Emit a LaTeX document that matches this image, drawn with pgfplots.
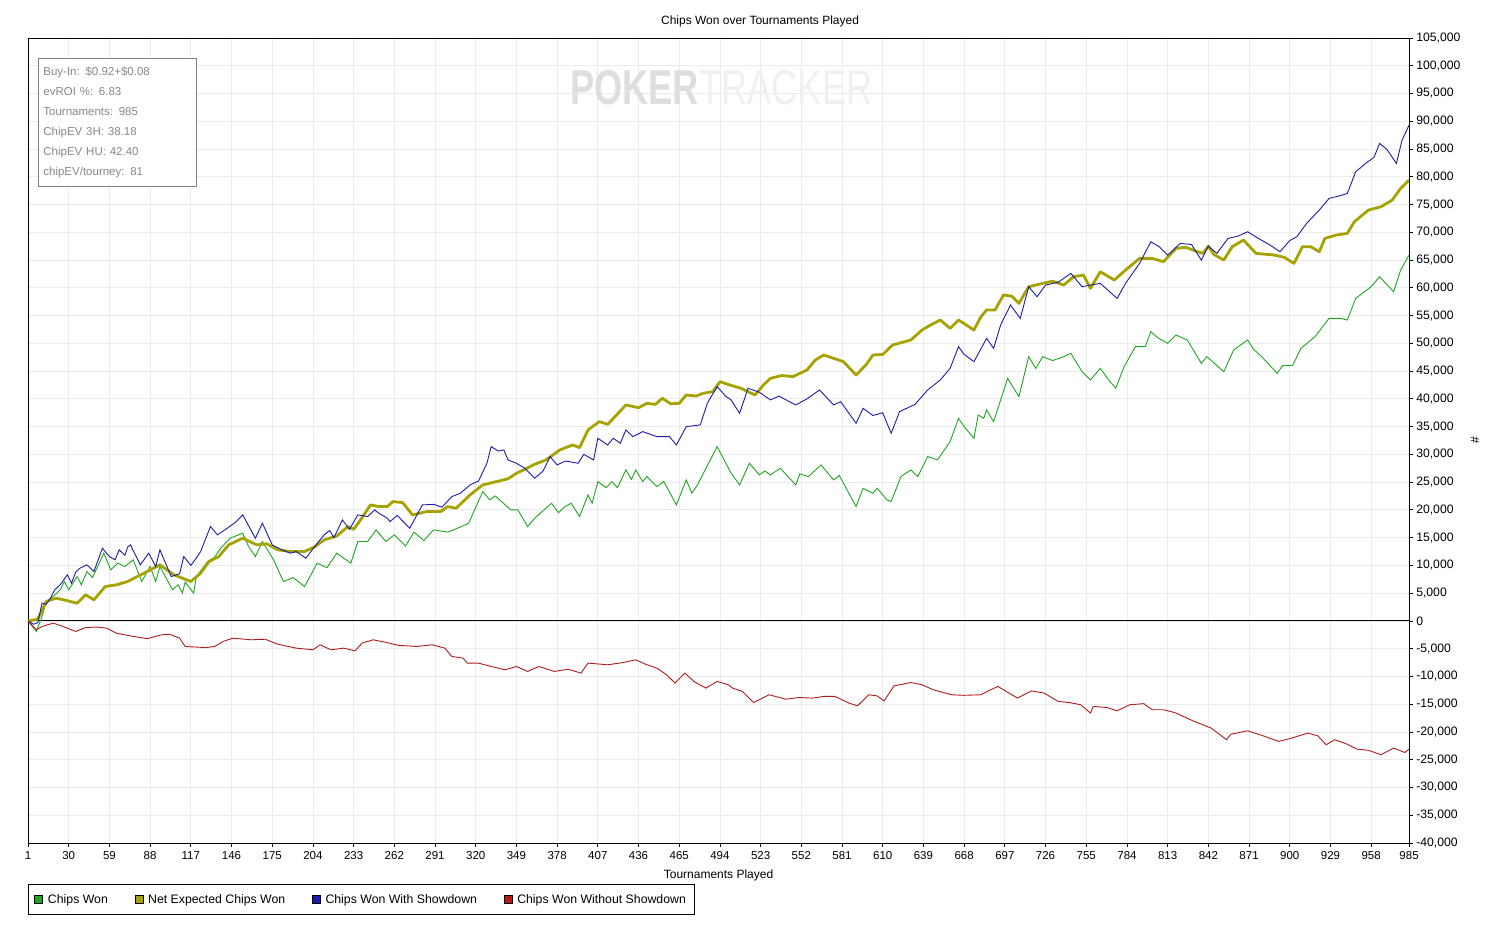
\documentclass[border=0pt]{standalone}
\usepackage{fontspec}
\setmainfont{Liberation Sans}
\usepackage{pgfplots}
\pgfplotsset{compat=1.18}
\definecolor{cgreen}{RGB}{32,166,32}
\definecolor{colive}{RGB}{166,162,0}
\definecolor{cblue}{RGB}{28,28,168}
\definecolor{cred}{RGB}{176,28,28}
\definecolor{gridgray}{RGB}{235,235,235}
\definecolor{boxgray}{RGB}{128,128,128}
\definecolor{txtgray}{RGB}{136,136,136}
\definecolor{wmdark}{RGB}{222,222,222}
\definecolor{wmlight}{RGB}{240,240,240}
\begin{document}
\begin{tikzpicture}
\begin{axis}[
  scale only axis, width=1381pt, height=805pt,
  xmin=1, xmax=985, ymin=-40000, ymax=105000,
  xtick={1,30,...,958,985},
  ytick={-40000,-35000,...,105000},
  scaled y ticks=false,
  xtick pos=left, ytick pos=right,
  yticklabel pos=right,
  tick align=outside, major tick length=4pt,
  tick style={black, line width=0.8pt},
  axis line style={black, line width=0.8pt},
  grid=major, major grid style={color=gridgray, line width=0.8pt},
  /pgf/number format/assume math mode=true,
  yticklabel style={/pgf/number format/fixed, /pgf/number format/1000 sep={,}, anchor=west, inner sep=0pt, xshift=3pt, font=\fontsize{12.2}{14}\selectfont},
  xticklabel style={anchor=north, inner sep=0pt, yshift=-4pt, font=\fontsize{11.5}{14}\selectfont},
  title={Chips Won over Tournaments Played},
  title style={at={(axis description cs:0.5,1)}, anchor=base, yshift=7pt, xshift=41.5pt, inner sep=0pt, font=\fontsize{12}{14}\selectfont},
  xlabel={Tournaments Played},
  xlabel style={at={(axis description cs:0.5,0)}, anchor=north, yshift=-27pt, inner sep=0pt, font=\fontsize{12}{14}\selectfont},
  ylabel={\#},
  ylabel style={at={(axis description cs:1,0.5)}, anchor=center, yshift=-66pt, inner sep=0pt, font=\fontsize{12}{14}\selectfont},
  legend columns=4,
  legend style={at={(axis description cs:0,0)}, anchor=north west, yshift=-41pt, draw=black, line width=0.8pt,
    inner xsep=6pt, inner ysep=8pt, font=\fontsize{12.3}{14}\selectfont,
    /tikz/every odd column/.style={column sep=3pt},
    /tikz/every even column/.style={column sep=24.6pt}},
  legend cell align=left,
]
\coordinate (sw) at (rel axis cs:0,0);
\node[inner sep=0pt] at (rel axis cs:0.502,0.938) {\scalebox{0.74}[1]{\fontsize{49}{50}\selectfont\textcolor{wmdark}{\bfseries POKER}\textcolor{wmlight}{TRACKER}}};
\addplot[black, line width=0.9pt, forget plot] coordinates {(1,0)(985,0)};
\addplot[cgreen, line width=0.9pt, legend image code/.code={\draw[black, line width=0.6pt, fill=cgreen] (0pt,-4pt) rectangle (8pt,4pt);}] coordinates {
(1,0)(7,-1900)(11,800)(14,3500)(19,4400)(24,5600)(27,7100)(30,5600)(36,8000)(39,6500)(43,8900)(47,7800)(55,12200)(60,9200)(65,10400)(70,9800)(76,11000)(82,7100)(88,9800)(92,7100)(95,9800)(104,5600)(108,6500)(111,5000)(113,7000)(119,5000)(121,8000)(129,10700)(134,11500)(138,13000)(145,14900)(154,15800)(158,13500)(163,11600)(168,14300)(176,11000)(183,7100)(190,7800)(198,6200)(202,8000)(207,10400)(214,9600)(221,12200)(231,10400)(236,14300)(243,14300)(249,16400)(256,14300)
(262,15500)(270,13500)(276,16000)(283,14500)(290,16400)(300,16000)(308,16800)(315,17600)
(325,23300)(330,21800)(334,22500)(345,20000)(350,20000)(357,17000)(362,18500)(374,21200)(379,19500)(383,20500)(388,21200)(394,18800)(400,22700)(403,21200)(407,25100)(413,24000)(417,25100)(421,24000)(427,27200)(431,25500)(434,27200)(439,25100)(442,26000)(449,24200)(454,25100)(463,20900)(470,25400)(474,23000)(478,24500)(492,31400)(502,26600)(508,24500)(515,28400)(522,26300)(526,27000)(530,26300)(537,27500)(548,24500)(551,26500)(557,26000)(566,28100)(575,25400)(579,26200)(591,20600)(596,23900)(603,23000)(606,23900)(613,21800)(616,21500)(623,26000)(630,27200)(635,26000)(642,29600)(649,29000)(658,32300)(664,36500)(668,35000)(675,32900)(678,37100)(682,36500)(684,38000)(689,35900)(699,43700)(707,40400)(714,47600)(719,45500)(724,47600)(731,46900)(739,47600)(744,48200)(752,44900)(758,43400)(765,45500)(771,43400)(776,41900)(782,45800)(790,49400)(797,49400)(801,52100)(806,51000)(813,50000)(819,51500)(827,50600)(837,46400)(841,47600)(853,44900)(860,48800)(870,50600)(874,49000)(880,47600)(891,44600)(895,46000)(902,46000)(908,49100)(918,51200)(928,54500)(936,54500)(941,54200)(947,58100)(958,60200)(964,62000)(974,59300)(979,63200)(985,65900)
};
\addlegendentry{Chips Won}
\addplot[colive, line width=2.8pt, line join=round, legend image code/.code={\draw[black, line width=0.6pt, fill=colive] (0pt,-4pt) rectangle (8pt,4pt);}] coordinates {
(1,0)(8,300)(14,3500)(21,4100)(28,3700)(36,3200)(42,4700)(48,3800)(56,6200)(64,6500)(72,7100)(79,8000)(86,8900)(95,10100)(105,8300)(117,7100)(124,8600)(130,10700)(137,11600)(144,13700)(154,14900)(164,13700)(171,13900)(179,12800)(188,12500)(198,12500)(205,13300)(212,14600)(221,15300)(229,17000)(233,16500)(238,18200)(245,20900)(251,20600)(257,20600)(261,21500)(268,21300)(275,19100)(285,19700)(295,19700)(300,20600)(306,20300)(316,22700)(325,24500)(335,25100)(343,25600)(349,26600)(355,27300)(361,28100)(370,29000)(380,30800)(389,31700)(394,31200)(400,34400)(408,35900)(414,35400)(420,37000)(427,38900)(436,38400)(442,39200)(448,39000)(453,40100)(459,39100)(465,39200)(470,40700)(477,40500)(482,41000)(489,41300)(494,43100)(501,42500)(509,41900)(519,40700)(525,42500)(530,43700)(538,44200)(546,44000)(556,45200)(562,47000)(568,47900)(575,47300)(582,46700)(591,44300)(598,46100)(603,47900)(610,48000)(617,49700)(630,50600)(638,52400)(644,53300)(651,54200)(658,52700)(664,54200)(675,52400)(680,54800)(684,56000)(690,56000)(696,58700)(702,58500)(707,57200)(714,60200)(724,60800)(731,61200)(739,60500)(746,62000)(753,62300)(758,59900)(765,62900)(775,61400)(783,63200)(793,65300)(802,65300)(810,64700)(819,67100)(826,67300)(832,66700)(838,66200)(842,67500)(846,66000)(853,65000)(859,67400)(867,68600)(876,66200)(889,65900)(896,65500)(903,64400)(909,67400)(915,67400)(921,66500)(925,68900)(933,69500)(941,69800)(946,71900)(956,74000)(965,74600)(973,75800)(979,77900)(985,79400)
};
\addlegendentry{Net Expected Chips Won}
\addplot[cblue, line width=0.9pt, legend image code/.code={\draw[black, line width=0.6pt, fill=cblue] (0pt,-4pt) rectangle (8pt,4pt);}] coordinates {
(1,0)(5,-600)(8,-300)(11,3200)(14,3000)(17,4100)(20,5600)(24,6500)(29,8300)(32,6800)(35,8800)(38,9500)(43,10100)(48,8900)(51,11000)(54,13100)(59,11600)(63,11000)(66,12800)(70,11800)(72,13300)(74,13700)(81,10100)(87,12200)(92,9800)(95,12800)(103,8000)(109,8500)(112,11600)(117,10000)(120,11000)(124,12500)(131,17000)(136,15500)(143,16700)(149,17800)(154,19100)(163,14900)(168,17600)(175,13700)(182,12800)(188,12200)(192,12500)(199,11300)(205,13300)(212,15500)(216,16300)(219,15000)(225,18200)(230,16500)(236,19100)(243,18800)(248,20000)(251,19400)(257,18500)(259,17900)(264,19000)(273,16700)(282,20900)(290,21000)(296,20500)(303,22400)(309,23000)(316,24500)(322,25200)(328,28400)(331,31400)(336,30600)(340,30800)(343,29000)(349,28400)(355,27500)(362,25700)(368,27000)(373,29600)(378,28100)(384,28800)(393,28400)(397,30000)(404,29000)(407,32900)(414,31700)(418,32900)(423,32000)(427,34400)(432,33200)(439,34100)(449,33200)(458,33200)(463,31700)(470,35000)(480,35300)(485,39200)(492,42200)(498,40500)(502,39800)(508,37400)(514,41900)(522,41200)(530,39800)(536,40500)(548,38900)(556,40000)(565,41600)(575,38900)(580,39500)(591,35600)(596,38300)(603,37000)(610,37500)(616,33800)(622,37700)(633,39000)(642,41600)(651,43400)(658,45500)(664,49400)(668,48000)(675,46700)(684,50900)(689,49100)(694,53300)(701,56900)(708,54500)(714,60200)(720,58400)(726,60500)(735,61000)(744,62600)(752,60200)(758,60500)(765,60800)(777,58100)(783,60800)(793,64400)(801,68300)(807,67400)(813,65900)(822,68000)(830,67800)(837,65000)(842,67500)(848,66200)(856,68900)(863,69300)(870,70100)(877,69000)(886,67700)(893,66500)(900,68500)(905,69200)(912,71600)(921,74000)(928,76100)(936,76600)(941,77000)(947,80900)(954,82400)(960,83500)(964,86000)(969,85000)(976,82400)(980,86600)(985,89300)
};
\addlegendentry{Chips Won With Showdown}
\addplot[cred, line width=0.9pt, legend image code/.code={\draw[black, line width=0.6pt, fill=cred] (0pt,-4pt) rectangle (8pt,4pt);}] coordinates {
(1,0)(7,-1600)(11,-1000)(19,-400)(26,-1000)(35,-1900)(42,-1200)(50,-1100)(57,-1300)(64,-2200)(74,-2700)(86,-3200)(96,-2500)(102,-2400)(109,-3100)(113,-4600)(120,-4700)(128,-4800)(134,-4600)(140,-3700)(147,-3100)(160,-3400)(170,-3300)(179,-4200)(192,-4900)(204,-5200)(209,-4300)(217,-5200)(226,-4900)(234,-5400)(239,-4000)(247,-3400)(255,-3800)(265,-4400)(278,-4600)(289,-4300)(298,-4900)(303,-6400)(311,-6700)(314,-7600)(322,-7600)(331,-8200)(341,-8800)(349,-8200)(357,-9100)(365,-8200)(376,-9100)(386,-8700)(395,-9400)(400,-7600)(414,-7900)(425,-7500)(434,-7000)(442,-7900)(449,-8500)(456,-9700)(462,-11200)(469,-9400)(476,-11000)(484,-12100)(492,-10900)(500,-11500)(503,-12100)(510,-12700)(518,-14700)(529,-13300)(541,-14100)(550,-13800)(560,-13900)(568,-13600)(576,-13600)(586,-14800)(592,-15300)(600,-13300)(606,-13500)(611,-14400)(618,-11700)(630,-11100)(638,-11500)(646,-12400)(659,-13300)(668,-13400)(680,-13300)(686,-12500)(692,-11800)(706,-13900)(716,-12600)(725,-13000)(735,-14500)(743,-14700)(751,-15100)(758,-16600)(760,-15400)(770,-15600)(777,-16200)(786,-15100)(796,-14900)(802,-16000)(810,-16000)(818,-16500)(831,-18000)(844,-19300)(855,-21400)(858,-20400)(870,-19800)(880,-20600)(892,-21700)(900,-21200)(913,-20200)(920,-20700)(926,-22300)(932,-21400)(940,-22100)(948,-23100)(956,-23300)(965,-24100)(974,-22900)(982,-23700)(985,-23100)
};
\addlegendentry{Chips Won Without Showdown}
\node[anchor=north west, draw=boxgray, line width=0.8pt, fill=white, inner xsep=5pt, inner ysep=0pt, text width=148pt, minimum height=128pt, align=left, text=txtgray, font=\fontsize{11.5}{20}\selectfont] at (rel axis cs:0,1) [xshift=10pt, yshift=-20pt] {Buy-In: \$0.92+\$0.08\\evROI \%: 6.83\\Tournaments: 985\\ChipEV 3H: 38.18\\ChipEV HU: 42.40\\chipEV/tourney: 81};
\end{axis}
\pgfresetboundingbox
\path[use as bounding box] (sw) ++(-28pt,-82pt) rectangle ++(1509pt,925pt);
\end{tikzpicture}
\end{document}
